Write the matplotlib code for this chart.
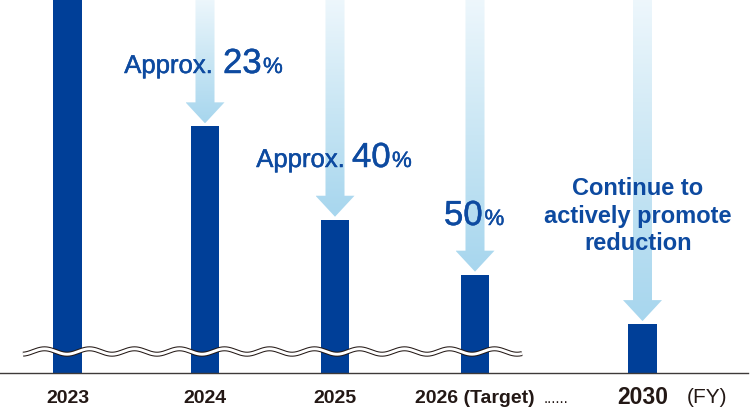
import numpy as np
import matplotlib
matplotlib.use("Agg")
import matplotlib.pyplot as plt
import matplotlib.patheffects as pe
from matplotlib.patches import Polygon
from matplotlib.colors import LinearSegmentedColormap

# ---------------- data ----------------
years = ["2023", "2024", "2025", "2026 (Target)", "2030"]
values = [100, 77, 60, 50, 41]          # emission index (2023 = 100), axis broken below
reduction_labels = ["23", "40", "50"]   # % reductions for 2024-2026
prefix_labels = ["Approx.", "Approx.", ""]
note_lines = ["Continue to", "actively promote", "reduction"]
unit_label = "(FY)"

# ---------------- layout ----------------
W, H = 750, 409
BASE = 373                      # baseline pixel row
YMIN, YMAX = 32.1, 100.0
xpos = [67.5, 205, 335, 475, 642.5]
bar_w = 28.5
BAR_C = "#003f98"
TXT_C = "#0d4aa0"
INK = "#231815"

plt.rcParams["font.family"] = ["Liberation Sans", "DejaVu Sans"]

fig = plt.figure(figsize=(W / 100, H / 100), dpi=100)
ax = fig.add_axes([0, (H - BASE) / H, 1, BASE / H])
ax.set_xlim(0, W)
ax.set_ylim(YMIN, YMAX)
ax.axis("off")
ax.bar(xpos, values, width=bar_w, bottom=0, color=BAR_C, zorder=2)

ov = fig.add_axes([0, 0, 1, 1], zorder=5)
ov.set_xlim(0, W)
ov.set_ylim(H, 0)
ov.axis("off")
ov.patch.set_alpha(0)

def bar_top_px(x, v):
    return H - ax.transData.transform((x, v))[1]

# ---------------- gradient arrows ----------------
cmap = LinearSegmentedColormap.from_list("arr", ["#eef7fc", "#c9e6f4", "#a7d6ee"])
shaft_hw, head_hw, head_len, gap = 9.5, 19.5, 21, 3
for x, v in zip(xpos[1:], values[1:]):
    tip = bar_top_px(x, v) - gap
    hs = tip - head_len
    verts = [(x - shaft_hw, -2), (x + shaft_hw, -2), (x + shaft_hw, hs),
             (x + head_hw, hs), (x, tip), (x - head_hw, hs), (x - shaft_hw, hs)]
    poly = Polygon(verts, closed=True, facecolor="none", edgecolor="none",
                   transform=ov.transData)
    ov.add_patch(poly)
    g = np.linspace(0, 1, 256).reshape(-1, 1)
    im = ov.imshow(g, cmap=cmap, extent=(x - head_hw, x + head_hw, tip, -2),
                   origin="upper", aspect="auto", interpolation="bilinear", zorder=1)
    im.set_clip_path(poly)
ov.set_xlim(0, W)
ov.set_ylim(H, 0)

# ---------------- wave (axis break) ----------------
wx = np.linspace(23, 522, 1200)
wy = 351.5 + 2.7 * np.cos(2 * np.pi * (wx - 67) / 45)
ov.plot(wx, wy, color=INK, lw=3.6, solid_capstyle="butt", zorder=3)
ov.plot(wx, wy, color="white", lw=2.1, solid_capstyle="butt", zorder=3.1)

# baseline
ov.plot([0, 748], [BASE, BASE], color="#3e3a39", lw=1.0, zorder=3)

# ---------------- category labels ----------------
for i, (x, lab) in enumerate(zip(xpos, years)):
    big = (i == len(years) - 1)
    ov.text(x, 404.5 if big else 403, lab, ha="center", va="baseline",
            fontsize=16.5 if big else 14, fontweight="bold", color=INK)
ov.text(556, 403, "......", ha="center", va="baseline", fontsize=11, color=INK)
ov.text(707, 403, unit_label, ha="center", va="baseline", fontsize=15, color=INK)

# ---------------- reduction annotations ----------------
med = [pe.withStroke(linewidth=0.35, foreground=TXT_C)]
ann_pos = [(213, 223, 263, 73), (345, 352, 392, 167), (None, 444, 484.5, 225)]
for (xa, xn, xp, yb), pre, num in zip(ann_pos, prefix_labels, reduction_labels):
    if pre:
        ov.text(xa, yb, pre, ha="right", va="baseline", fontsize=18.5,
                color=TXT_C, zorder=6, path_effects=med)
    ov.text(xn, yb, num, ha="left", va="baseline", fontsize=25,
            color=TXT_C, zorder=6, path_effects=med)
    ov.text(xp, yb, "%", ha="left", va="baseline", fontsize=16,
            color=TXT_C, zorder=6, path_effects=med)

for yb, line in zip([195, 223, 250.5], note_lines):
    ov.text(638, yb, line, ha="center", va="baseline", fontsize=17,
            fontweight="bold", color=TXT_C, zorder=6)

fig.savefig("out.png", dpi=100)
